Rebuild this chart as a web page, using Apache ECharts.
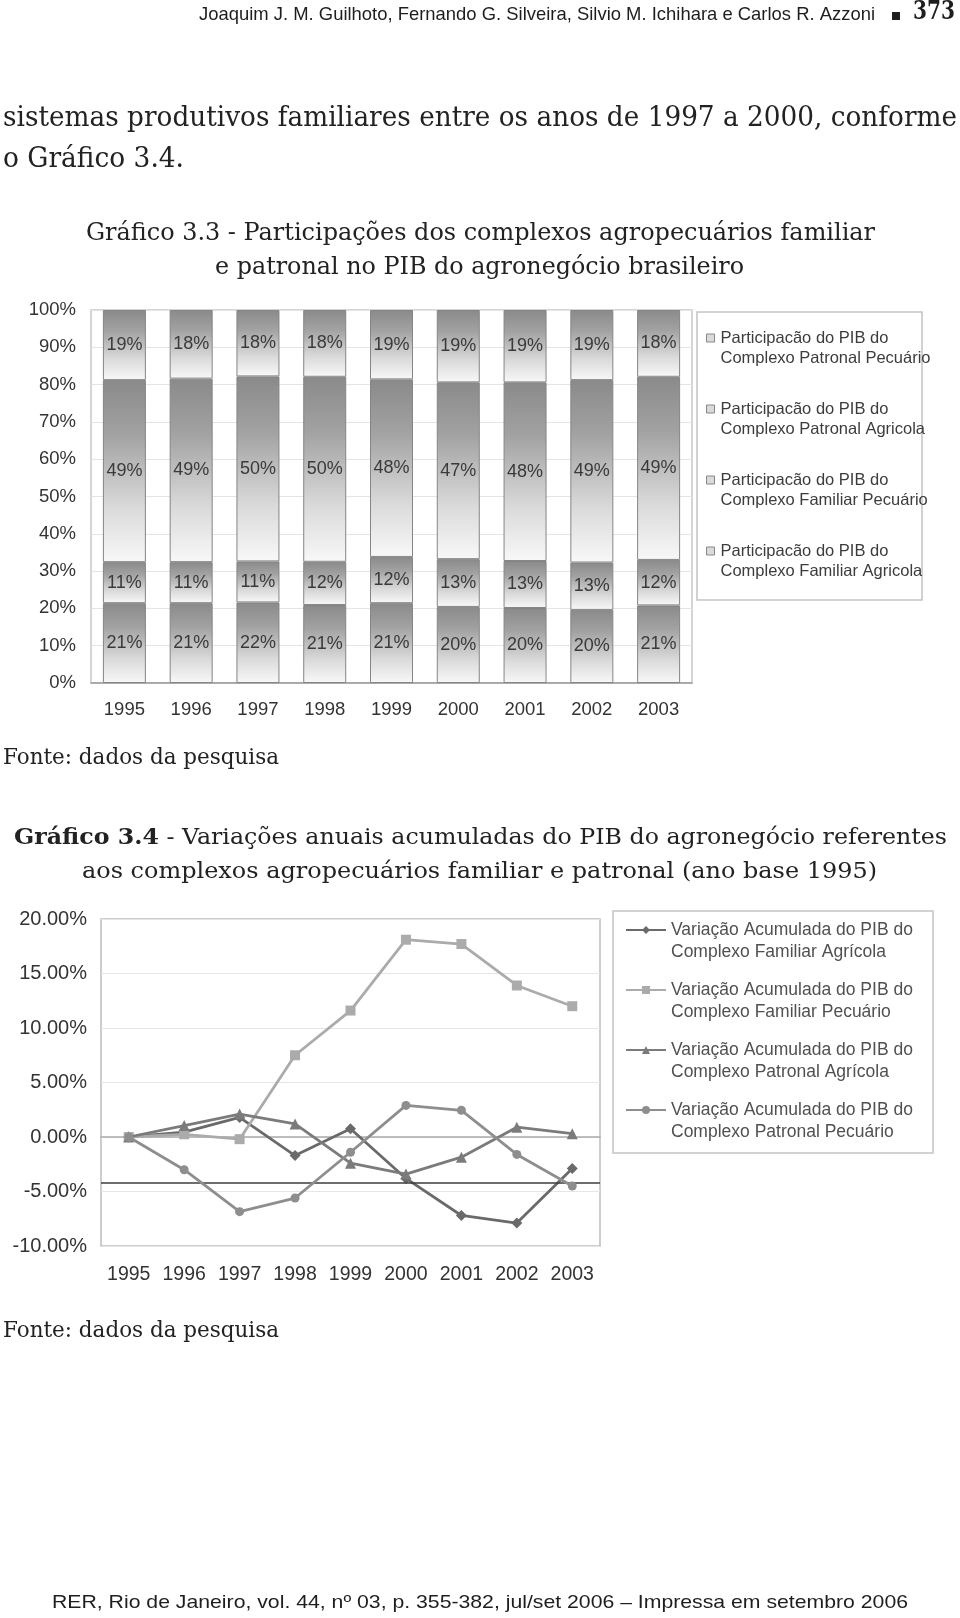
<!DOCTYPE html>
<html>
<head>
<meta charset="utf-8">
<script src="https://cdn.jsdelivr.net/npm/echarts@6/dist/echarts.min.js"></script>
<style>
html,body{margin:0;padding:0;background:#fff;}
#main{width:960px;height:1618px;}
</style>
</head>
<body>
<div id="main"></div>
<script>
// ---------- Data ----------
const years = ['1995', '1996', '1997', '1998', '1999', '2000', '2001', '2002', '2003'];

// Gráfico 3.3 – shares (%) of agribusiness GDP (100% stacked)
const shareFamiliarAgricola = [21.4, 21.4, 21.6, 20.9, 21.4, 20.4, 20.1, 19.6, 20.8];
const shareFamiliarPecuario = [11.0, 11.0, 11.0, 11.6, 12.4, 12.8, 12.6, 12.7, 12.2];
const sharePatronalAgricola = [48.8, 49.2, 49.6, 49.6, 47.6, 47.4, 47.9, 48.9, 49.1];
const sharePatronalPecuario = [18.8, 18.4, 17.8, 17.9, 18.6, 19.4, 19.4, 18.8, 17.9];
const shareNames = [
  'Participacão do PIB do Complexo Familiar Agricola',
  'Participacão do PIB do Complexo Familiar Pecuário',
  'Participacão do PIB do Complexo Patronal Agricola',
  'Participacão do PIB do Complexo Patronal Pecuário'
];

// Gráfico 3.4 – accumulated annual variation (%), base 1995
const varFamiliarAgricola = [0, 0.45, 1.8, -1.7, 0.75, -3.8, -7.2, -7.9, -2.9];
const varFamiliarPecuario = [0, 0.25, -0.2, 7.5, 11.6, 18.1, 17.7, 13.9, 12.0];
const varPatronalAgricola = [0, 1.05, 2.1, 1.2, -2.4, -3.4, -1.85, 0.9, 0.3];
const varPatronalPecuario = [0, -3.0, -6.85, -5.6, -1.4, 2.9, 2.45, -1.6, -4.5];
const varNames = [
  'Variação Acumulada do PIB do Complexo Familiar Agrícola',
  'Variação Acumulada do PIB do Complexo Familiar Pecuário',
  'Variação Acumulada do PIB do Complexo Patronal Agrícola',
  'Variação Acumulada do PIB do Complexo Patronal Pecuário'
];
const axisCrossing = -4.2;

// Page texts
const headerText = 'Joaquim J. M. Guilhoto, Fernando G. Silveira, Silvio M. Ichihara e Carlos R. Azzoni';
const pageNumber = '373';
const bodyLine1 = 'sistemas produtivos familiares entre os anos de 1997 a 2000, conforme';
const bodyLine2 = 'o Gráfico 3.4.';
const title1Line1 = 'Gráfico 3.3 - Participações dos complexos agropecuários familiar';
const title1Line2 = 'e patronal no PIB do agronegócio brasileiro';
const sourceText = 'Fonte: dados da pesquisa';
const title2Bold = 'Gráfico 3.4';
const title2Rest = ' - Variações anuais acumuladas do PIB do agronegócio referentes';
const title2Line2 = 'aos complexos agropecuários familiar e patronal (ano base 1995)';
const footerText = 'RER, Rio de Janeiro, vol. 44, nº 03, p. 355-382, jul/set 2006 – Impressa em setembro 2006';

// ---------- Helpers ----------
const SERIF = 'DejaVu Serif';
const SANS = 'Liberation Sans';
const mctx = document.createElement('canvas').getContext('2d');
function measure(str, size, family, weight) {
  mctx.font = (weight || 'normal') + ' ' + size + 'px "' + family + '"';
  return mctx.measureText(str).width;
}
function fitText(str, x, yMid, width, size, family, opts) {
  opts = opts || {};
  const w = measure(str, size, family, opts.weight);
  return {
    type: 'text', x: x, y: yMid, scaleX: width / w, silent: true,
    style: {
      text: str, fontSize: size, fontFamily: family, fontWeight: opts.weight || 'normal',
      fill: opts.color || '#222', align: 'left', verticalAlign: 'middle',
      textAlign: 'left', textVerticalAlign: 'middle'
    }
  };
}
function barGradient() {
  return new echarts.graphic.LinearGradient(0, 0, 0, 1, [
    { offset: 0, color: '#8a8a8a' },
    { offset: 0.3, color: '#a2a2a2' },
    { offset: 0.7, color: '#dadada' },
    { offset: 1, color: '#f8f8f8' }
  ]);
}
// empty first line keeps the legend icon level with the first text line
const splitName = n => '\n' + n.replace(' Complexo', '\nComplexo');

// ---------- Graphic texts ----------
const title2Size = 23;
const t2wBold = measure(title2Bold, title2Size, SERIF, 'bold');
const t2wRest = measure(title2Rest, title2Size, SERIF, 'normal');

const graphics = [
  fitText(headerText, 199, 14.5, 676, 19, SANS, { color: '#1e1e1e' }),
  { type: 'rect', silent: true, shape: { x: 892, y: 12, width: 8, height: 8 }, style: { fill: '#1e1e1e' } },
  fitText(pageNumber, 913, 12, 42, 26, SERIF, { color: '#1e1e1e', weight: 'bold' }),
  fitText(bodyLine1, 3, 119, 954, 27, SERIF),
  fitText(bodyLine2, 3, 160, 181, 27, SERIF),
  fitText(title1Line1, 86, 234, 789, 24, SERIF),
  fitText(title1Line2, 215, 268, 529, 24, SERIF),
  fitText(sourceText, 3, 758, 276, 23, SERIF),
  {
    type: 'text', x: 14, y: 838, scaleX: 933 / (t2wBold + t2wRest), silent: true,
    style: {
      text: '{b|' + title2Bold + '}' + title2Rest,
      fontSize: title2Size, fontFamily: SERIF, fill: '#222',
      align: 'left', verticalAlign: 'middle', textAlign: 'left', textVerticalAlign: 'middle',
      rich: { b: { fontWeight: 'bold', fontSize: title2Size, fontFamily: SERIF, fill: '#222' } }
    }
  },
  fitText(title2Line2, 82, 872, 795, 23, SERIF),
  fitText(sourceText, 3, 1331, 276, 23, SERIF),
  fitText(footerText, 52, 1603, 856, 19, SANS, { color: '#1e1e1e' }),
  // legend frames
  { type: 'rect', silent: true, shape: { x: 697, y: 312, width: 225, height: 288 }, style: { fill: 'none', stroke: '#c4c4c4', lineWidth: 1.5 } },
  { type: 'rect', silent: true, shape: { x: 613, y: 911, width: 320, height: 242 }, style: { fill: 'none', stroke: '#c4c4c4', lineWidth: 1.5 } }
];

// ---------- Series ----------
const shareData = [shareFamiliarAgricola, shareFamiliarPecuario, sharePatronalAgricola, sharePatronalPecuario];
const barSeries = shareNames.map((name, i) => ({
  name: name, type: 'bar', stack: 'total', xAxisIndex: 0, yAxisIndex: 0,
  barWidth: 43, data: shareData[i],
  itemStyle: { color: barGradient(), borderColor: '#858585', borderWidth: 1 },
  label: {
    show: true, position: 'inside', formatter: p => Math.round(p.value) + '%',
    fontSize: 18, color: '#3a3a3a', fontFamily: SANS
  },
  emphasis: { disabled: true }
}));

const varData = [varFamiliarAgricola, varFamiliarPecuario, varPatronalAgricola, varPatronalPecuario];
const varColors = ['#6a6a6a', '#ababab', '#7b7b7b', '#8e8e8e'];
const varSymbols = ['diamond', 'rect', 'triangle', 'circle'];
const varSymbolSize = [11, 10, 11, 9];
const lineSeries = varNames.map((name, i) => ({
  name: name, type: 'line', xAxisIndex: 1, yAxisIndex: 1, data: varData[i],
  symbol: varSymbols[i], symbolSize: varSymbolSize[i],
  lineStyle: { color: varColors[i], width: 2.8 },
  itemStyle: { color: varColors[i] },
  emphasis: { disabled: true },
  z: 3 + i
}));
lineSeries[0].markLine = {
  silent: true, symbol: 'none', label: { show: false },
  lineStyle: { color: '#3c3c3c', width: 1.5, type: 'solid' },
  data: [{ yAxis: axisCrossing }]
};

// ---------- Option ----------
const option = {
  animation: false,
  backgroundColor: '#fff',
  graphic: { elements: graphics },
  grid: [
    { left: 91, top: 310, width: 601, height: 373, show: true, borderColor: '#c8c8c8', borderWidth: 1.5, containLabel: false },
    { left: 101, top: 919, width: 499, height: 327, show: true, borderColor: '#bdbdbd', borderWidth: 1.5, containLabel: false }
  ],
  xAxis: [
    {
      type: 'category', gridIndex: 0, data: years,
      axisLine: { lineStyle: { color: '#999', width: 1.5 } },
      axisTick: { inside: true, length: 6, lineStyle: { color: '#aaa' } },
      axisLabel: { interval: 0, margin: 17, fontSize: 18.5, color: '#333', fontFamily: SANS }
    },
    {
      type: 'category', gridIndex: 1, data: years,
      axisLine: { lineStyle: { color: '#aaa', width: 1.5 } },
      axisTick: { inside: true, length: 6, lineStyle: { color: '#aaa' } },
      axisLabel: { interval: 0, hideOverlap: false, margin: 19, fontSize: 19.5, color: '#333', fontFamily: SANS }
    }
  ],
  yAxis: [
    {
      type: 'value', gridIndex: 0, min: 0, max: 100, interval: 10,
      axisLine: { show: false }, axisTick: { show: false },
      splitLine: { lineStyle: { color: '#e4e4e4' } },
      axisLabel: { margin: 15, formatter: '{value}%', fontSize: 18.5, color: '#333', fontFamily: SANS }
    },
    {
      type: 'value', gridIndex: 1, min: -10, max: 20, interval: 5,
      axisLine: { show: false }, axisTick: { show: false },
      splitLine: { lineStyle: { color: '#e6e6e6' } },
      axisLabel: { margin: 14, formatter: v => v.toFixed(2) + '%', fontSize: 20, color: '#333', fontFamily: SANS }
    }
  ],
  legend: [
    {
      orient: 'vertical', left: 706, top: 308, padding: 0, itemGap: 11,
      itemWidth: 8, itemHeight: 8, icon: 'rect', selectedMode: false,
      data: shareNames.slice().reverse(),
      formatter: splitName,
      itemStyle: { color: '#dadada', borderColor: '#888', borderWidth: 1 },
      textStyle: {
        fontSize: 16.5, lineHeight: 20, color: '#3c3c3c', fontFamily: SANS,
        padding: [0, 0, 0, 1], backgroundColor: 'rgba(0,0,0,0)'
      }
    },
    {
      orient: 'vertical', left: 625, top: 897, padding: 0, itemGap: -6,
      itemWidth: 40, itemHeight: 10, selectedMode: false,
      data: varNames,
      formatter: splitName,
      textStyle: {
        fontSize: 17.5, lineHeight: 22, color: '#505050', fontFamily: SANS,
        padding: 0, backgroundColor: 'rgba(0,0,0,0)'
      }
    }
  ],
  series: barSeries.concat(lineSeries)
};

const chart = echarts.init(document.getElementById('main'), null, { renderer: 'canvas', width: 960, height: 1618 });
chart.setOption(option);
</script>
</body>
</html>
